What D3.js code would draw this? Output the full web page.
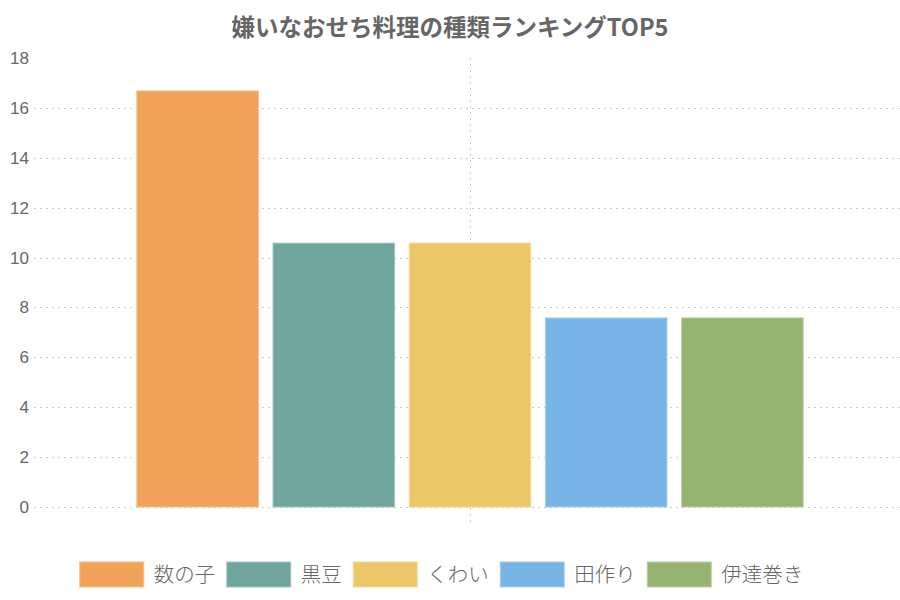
<!DOCTYPE html>
<html>
<head>
<meta charset="utf-8">
<script src="https://d3js.org/d3.v7.min.js"></script>
<style>
    body {
        margin: 0px;
        padding: 0px;
        background: #fff;
    }
    svg text {
        font-family: Arial, "Liberation Sans", "Noto Sans CJK JP", sans-serif;
        fill: #666;
    }
</style>
<title>嫌いなおせち料理</title>
</head>
<body>
<div id="chart"></div>
<script>
    // data
    var categories = ["数の子", "黒豆", "くわい", "田作り", "伊達巻き"];
    var values = [16.7, 10.6, 10.6, 7.6, 7.6];
    var yTicks = [0, 2, 4, 6, 8, 10, 12, 14, 16, 18];
    var title = "嫌いなおせち料理の種類ランキングTOP5";

    var colors = ["#f0a358", "#70a59f", "#ecc76a", "#78b5e6", "#96b372"];
    var borders = ["#f5c08e", "#a3c6c2", "#f3d99b", "#a8d0f0", "#bcd0a5"];

    var width = 900, height = 600;

    var svg = d3.select("#chart").append("svg")
        .attr("width", width)
        .attr("height", height);

    var y = d3.scaleLinear()
        .domain([0, 18])
        .range([507, 58]);

    var x = d3.scaleBand()
        .domain(categories)
        .range([129.5, 810.5])
        .paddingInner(0.1)
        .paddingOuter(0.05);

    //title
    svg.append("text")
        .attr("x", 450)
        .attr("y", 36)
        .attr("text-anchor", "middle")
        .style("font-size", "23.5px")
        .style("font-weight", "bold")
        .style("font-family", "'Noto Sans CJK JP', sans-serif")
        .text(title);

    //horizontal grid lines (not at the top tick)
    svg.append("g").selectAll("line")
        .data(yTicks.filter(function (d) { return d < 18; }))
        .enter().append("line")
        .attr("x1", 34)
        .attr("x2", 900)
        .attr("y1", function (d) { return Math.round(y(d)) + 0.5; })
        .attr("y2", function (d) { return Math.round(y(d)) + 0.5; })
        .attr("stroke", "#c8c8c8")
        .attr("stroke-dasharray", "2,4");

    //the single vertical grid line through the middle
    svg.append("line")
        .attr("x1", 470.5)
        .attr("x2", 470.5)
        .attr("y1", 58)
        .attr("y2", 522)
        .attr("stroke", "#c8c8c8")
        .attr("stroke-dasharray", "2,4");

    //y axis labels
    var yAxis = d3.axisLeft(y)
        .tickValues(yTicks)
        .tickSize(0)
        .tickPadding(0);
    var gy = svg.append("g")
        .attr("transform", "translate(29,0)")
        .call(yAxis);
    gy.select(".domain").remove();
    gy.selectAll("text")
        .attr("fill", "#666")
        .style("font-size", "17px")
        .style("font-family", "'Liberation Sans', Arial, sans-serif");

    //bars
    svg.append("g").selectAll("rect")
        .data(values)
        .enter().append("rect")
        .attr("x", function (d, i) { return x(categories[i]) + 0.5; })
        .attr("y", function (d) { return y(d) + 0.5; })
        .attr("width", x.bandwidth() - 1)
        .attr("height", function (d) { return y(0) - y(d) - 0.5; })
        .attr("fill", function (d, i) { return colors[i]; })
        .attr("stroke", function (d, i) { return borders[i]; })
        .attr("stroke-width", 1);

    //legend
    var boxW = 64, boxH = 25, gap = 10, pad = 11.5, fontSize = 20.5;
    var legend = svg.append("g");
    var items = legend.selectAll("g")
        .data(categories)
        .enter().append("g");
    items.append("rect")
        .attr("width", boxW)
        .attr("height", boxH)
        .attr("fill", function (d, i) { return colors[i]; })
        .attr("stroke", function (d, i) { return borders[i]; });
    items.append("text")
        .attr("x", boxW + gap)
        .attr("y", boxH / 2)
        .attr("dy", "0.36em")
        .style("font-size", fontSize + "px")
        .style("font-family", "'Noto Sans CJK JP', sans-serif")
        .style("font-weight", "300")
        .text(function (d) { return d; });

    var offs = [], total = 0;
    items.each(function (d, i) {
        var tw = this.querySelector("text").getComputedTextLength();
        offs.push(total);
        total += boxW + gap + tw + (i < categories.length - 1 ? pad : 0);
    });
    var startX = 441.5 - total / 2;
    items.attr("transform", function (d, i) {
        return "translate(" + (startX + offs[i]) + ",562)";
    });
</script>
</body>
</html>
